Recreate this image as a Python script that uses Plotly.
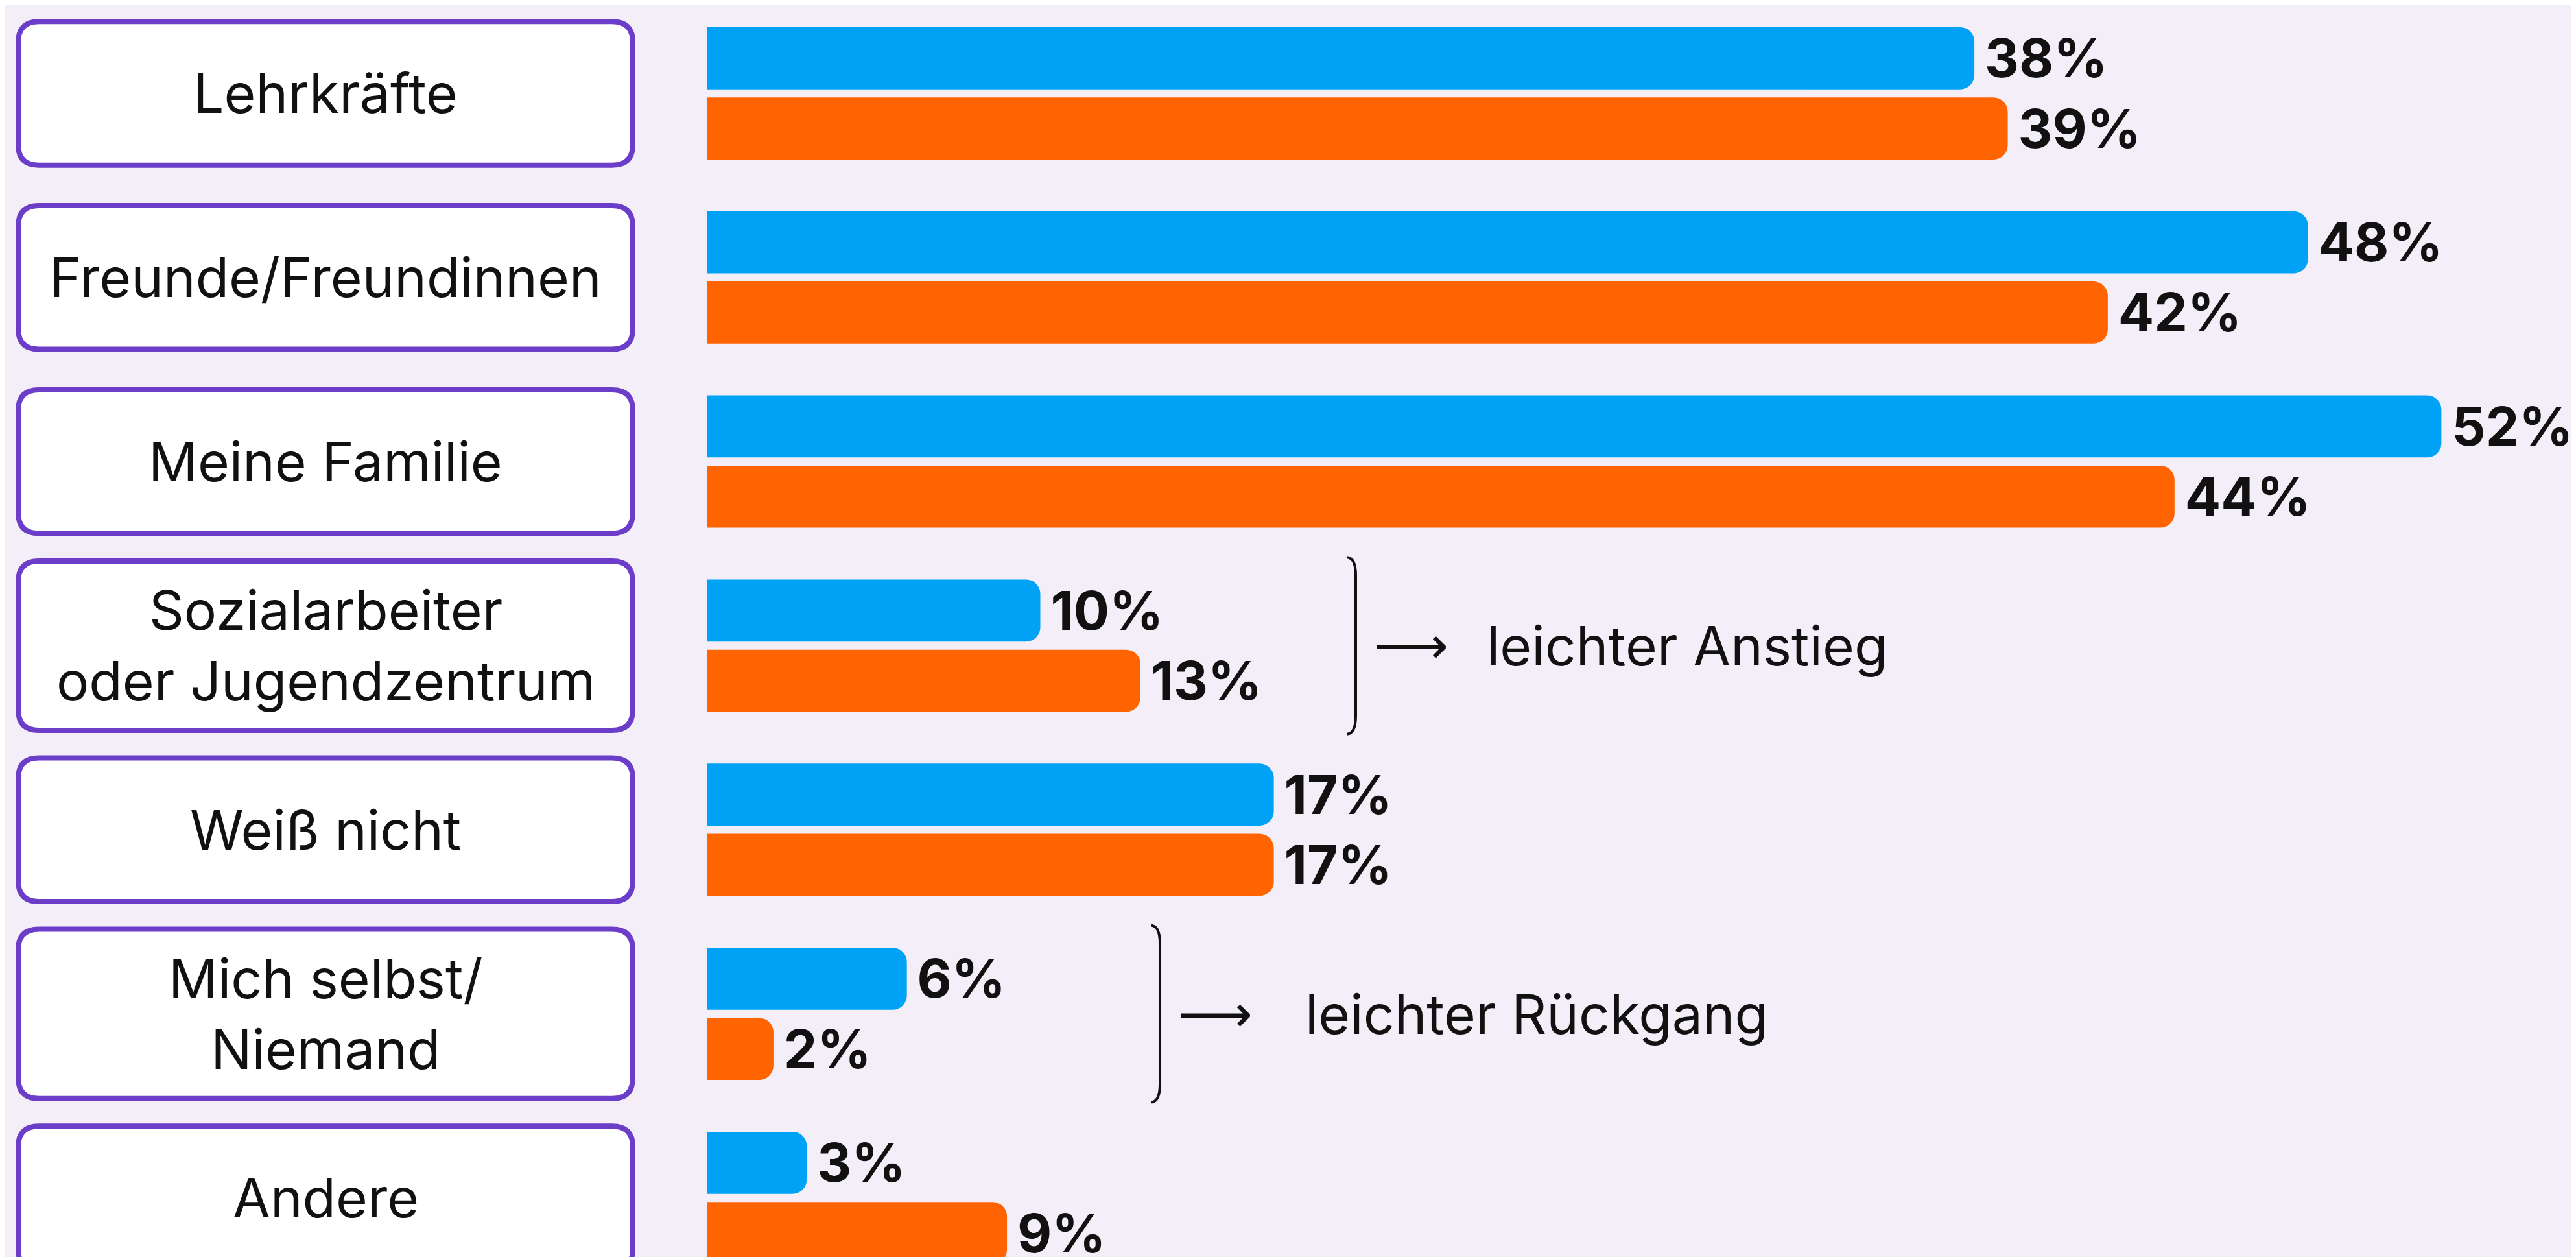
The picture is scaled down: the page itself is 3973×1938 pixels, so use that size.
import plotly.graph_objects as go

# Antworten (oben nach unten)
kategorien = ["Lehrkräfte", "Freunde/Freundinnen", "Meine Familie",
              "Sozialarbeiter<br>oder Jugendzentrum", "Weiß nicht",
              "Mich selbst/<br>Niemand", "Andere"]
werte_blau = [38, 48, 52, 10, 17, 6, 3]
werte_orange = [39, 42, 44, 13, 17, 2, 9]
hinweise = {3: "leichter Anstieg", 5: "leichter Rückgang"}

BLAU = "#00A2F6"
ORANGE = "#FF6400"
LILA = "#6B3DC8"
HG = "#F3EEF7"

W, H = 3973, 1938
idx = list(range(len(kategorien)))

fig = go.Figure()
for werte, farbe in [(werte_blau, BLAU), (werte_orange, ORANGE)]:
    fig.add_trace(go.Bar(
        x=werte, y=idx, orientation="h",
        marker=dict(color=farbe, cornerradius=22, line_width=0),
        text=[f"\u2009{v}%" for v in werte], textposition="outside",
        textfont=dict(family="Inter", size=82, color="#111111", weight=700),
        cliponaxis=False, constraintext="none", hoverinfo="skip",
    ))

# Beschriftungs-Kaesten links (abgerundete Rechtecke)
bx0, bx1 = 20 / W, 968 / W
rx = 32 / W
for i, name in enumerate(kategorien):
    h = 0.46 if "<br>" in name else 0.39
    y0, y1 = i - h, i + h
    ry = 32 / 283.8
    path = (f"M {bx0+rx},{y0} L {bx1-rx},{y0} Q {bx1},{y0} {bx1},{y0+ry} "
            f"L {bx1},{y1-ry} Q {bx1},{y1} {bx1-rx},{y1} "
            f"L {bx0+rx},{y1} Q {bx0},{y1} {bx0},{y1-ry} "
            f"L {bx0},{y0+ry} Q {bx0},{y0} {bx0+rx},{y0} Z")
    fig.add_shape(type="path", path=path, xref="paper", yref="y",
                  fillcolor="white", line=dict(color=LILA, width=8), layer="below")
    fig.add_annotation(x=(bx0 + bx1) / 2, y=i, xref="paper", yref="y",
                       xanchor="center", yanchor="middle",
                       text=name, showarrow=False,
                       font=dict(family="Inter", size=84, color="#111111"))

# Klammern mit Pfeil
klammer_x = {3: 2083 / W, 5: 1781 / W}
for i, txt in hinweise.items():
    kx = klammer_x[i]
    y0, y1 = i - 0.48, i + 0.48
    dx, dy = 14 / W, 0.1
    path = (f"M {kx-dx},{y0} Q {kx},{y0} {kx},{y0+dy} L {kx},{y1-dy} "
            f"Q {kx},{y1} {kx-dx},{y1}")
    fig.add_shape(type="path", path=path, xref="paper", yref="y",
                  line=dict(color="#111111", width=4))
    fig.add_annotation(x=kx + 26 / W, y=i, xref="paper", yref="y",
                       xanchor="left", text="⟶", showarrow=False,
                       font=dict(family="DejaVu Sans", size=80, color="#111111"))
    fig.add_annotation(x=kx + (200 if i == 3 else 222) / W, y=i, xref="paper", yref="y",
                       xanchor="left", text=txt, showarrow=False,
                       font=dict(family="Inter", size=84, color="#111111"))

fig.update_layout(
    width=W, height=H, margin=dict(l=0, r=0, t=0, b=0),
    paper_bgcolor=HG, plot_bgcolor=HG,
    barmode="group", bargap=0.237, bargroupgap=0.116,
    showlegend=False,
    xaxis=dict(range=[-1082 / 51.45, (W - 1082) / 51.45], visible=False, fixedrange=True),
    yaxis=dict(range=[len(kategorien) - 1 + 0.349, -0.479], visible=False, fixedrange=True),
)

fig.write_html("out.html")
